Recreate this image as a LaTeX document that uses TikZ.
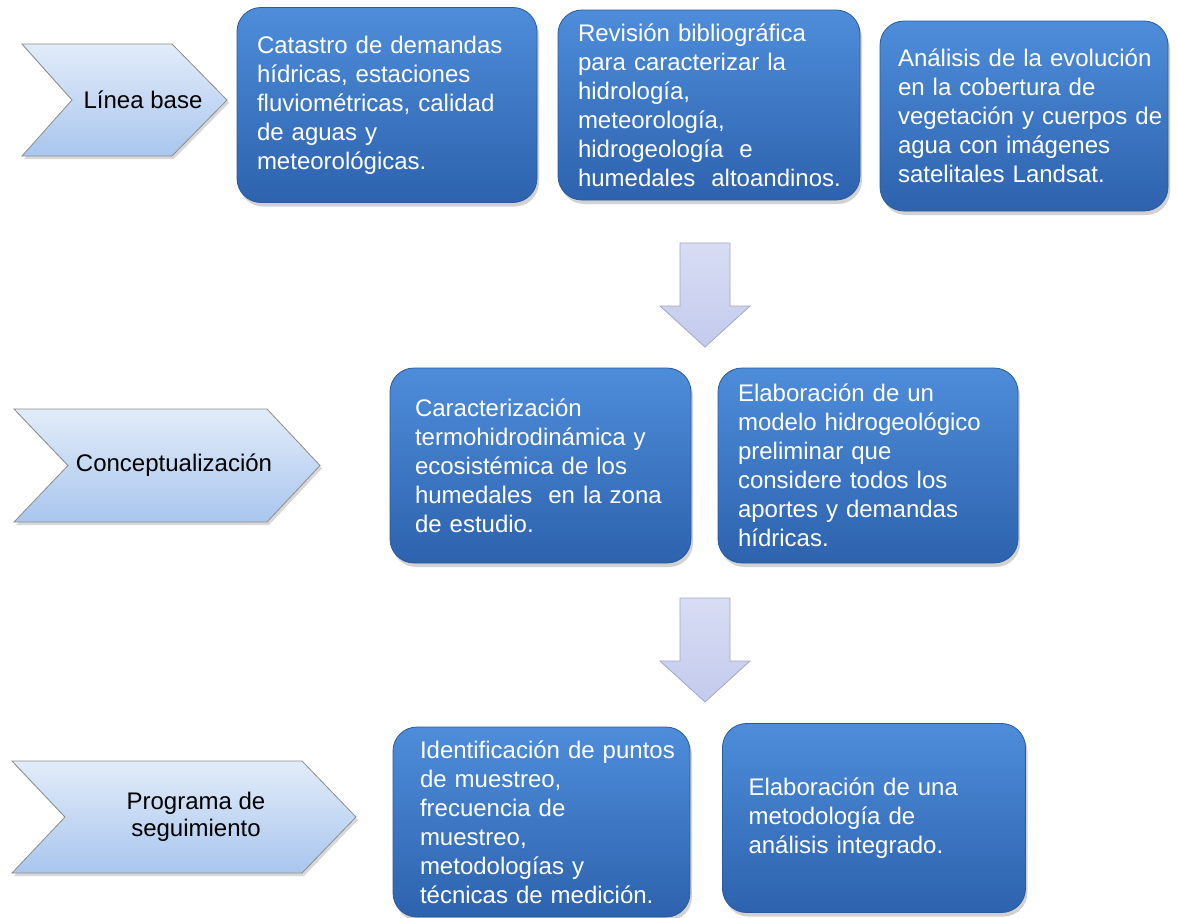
\documentclass[tikz,border=0pt]{standalone}
\usepackage{fontspec}
\setmainfont{Liberation Sans}
\usetikzlibrary{shadows}
\definecolor{boxtop}{HTML}{4E8DDA}
\definecolor{boxbot}{HTML}{2D62AE}
\definecolor{boxedge}{HTML}{2A5A9C}
\definecolor{chevtop}{HTML}{E2ECF9}
\definecolor{chevbot}{HTML}{A9C6EE}
\definecolor{chevedge}{HTML}{8C8C8C}
\definecolor{arrtop}{HTML}{D8DDF4}
\definecolor{arrbot}{HTML}{C3CAEC}
\definecolor{arredge}{HTML}{A4A9C2}
\begin{document}
\begin{tikzpicture}[x=1pt,y=-1pt,
  bluebox/.style={rounded corners=24pt, top color=boxtop, bottom color=boxbot,
    draw=boxedge, line width=0.8pt, text=white, align=left, inner ysep=4pt,
    font=\fontsize{24}{29}\selectfont,
    drop shadow={opacity=0.35, shadow xshift=2pt, shadow yshift=-4pt}},
  chevron/.style={top color=chevtop, bottom color=chevbot, draw=chevedge, line width=0.8pt,
    drop shadow={opacity=0.3, shadow xshift=2pt, shadow yshift=-3pt}},
  chevtext/.style={text=black, font=\fontsize{24}{27}\selectfont, align=center, inner sep=0pt},
  blockarrow/.style={top color=arrtop, bottom color=arrbot, draw=arredge, line width=0.8pt}]
\fill[white] (0,0) rectangle (1178,918);
\useasboundingbox (0,0) rectangle (1178,918);

% Row 1
\path[chevron] (22,44) -- (172,44) -- (227,100) -- (172,156) -- (22,156) -- (72,100) -- cycle;
\node[chevtext] (t1) at (143,100) {Línea base};
\node[bluebox, text width=260pt, inner xsep=20pt, minimum height=195pt] (b1) at (387,105)
  {Catastro de demandas\\hídricas, estaciones\\fluviométricas, calidad\\de aguas y\\meteorológicas.};
\node[bluebox, text width=262pt, inner xsep=20pt, minimum height=190pt] (b2) at (709,105)
  {Revisión bibliográfica\\para caracterizar la\\hidrología,\\meteorología,\\hidrogeología\ \ e\\\mbox{humedales\ \ altoandinos.}};
\node[bluebox, text width=282pt, inner xsep=3pt, minimum height=190pt] (b3) at (1024,116)
  {\leftskip=15pt Análisis de la evolución\\en la cobertura de\\\mbox{vegetación y cuerpos de}\\agua con imágenes\\satelitales Landsat.\par};

% Arrow 1
\coordinate (a1) at (705,243);
\draw[blockarrow] (a1) ++(-25,0) -- ++(50,0) -- ++(0,63) -- ++(20,0) -- ++(-45,41) -- ++(-45,-41) -- ++(20,0) -- cycle;

% Row 2
\path[chevron] (14,409) -- (267,409) -- (320,465.5) -- (267,522) -- (14,522) -- (68,465.5) -- cycle;
\node[chevtext] (t2) at (174,465.5) {Conceptualización};
\node[bluebox, text width=251pt, inner xsep=25pt, minimum height=195pt] (b4) at (540.5,465.5)
  {Caracterización\\termohidrodinámica y\\ecosistémica de los\\humedales\ \ en la zona\\de estudio.};
\node[bluebox, text width=260pt, inner xsep=20pt, minimum height=195pt] (b5) at (868,465.5)
  {Elaboración de un\\modelo hidrogeológico\\preliminar que\\considere todos los\\aportes y demandas\\hídricas.};

% Arrow 2
\coordinate (a2) at (705,598);
\draw[blockarrow] (a2) ++(-25,0) -- ++(50,0) -- ++(0,63) -- ++(20,0) -- ++(-45,41) -- ++(-45,-41) -- ++(20,0) -- cycle;

% Row 3
\path[chevron] (12,761) -- (302,761) -- (356,817) -- (302,873) -- (12,873) -- (65,817) -- cycle;
\node[chevtext] (t3) at (196,817) {Programa de\\seguimiento};
\node[bluebox, text width=265pt, inner xsep=16pt, minimum height=190pt] (b6) at (541.5,822)
  {\leftskip=11pt \mbox{Identificación de puntos}\\de muestreo,\\frecuencia de\\muestreo,\\metodologías y\\técnicas de medición.\par};
\node[bluebox, text width=251pt, inner xsep=26pt, minimum height=189pt] (b7) at (874,818)
  {Elaboración de una\\metodología de\\análisis integrado.};
\end{tikzpicture}
\end{document}
